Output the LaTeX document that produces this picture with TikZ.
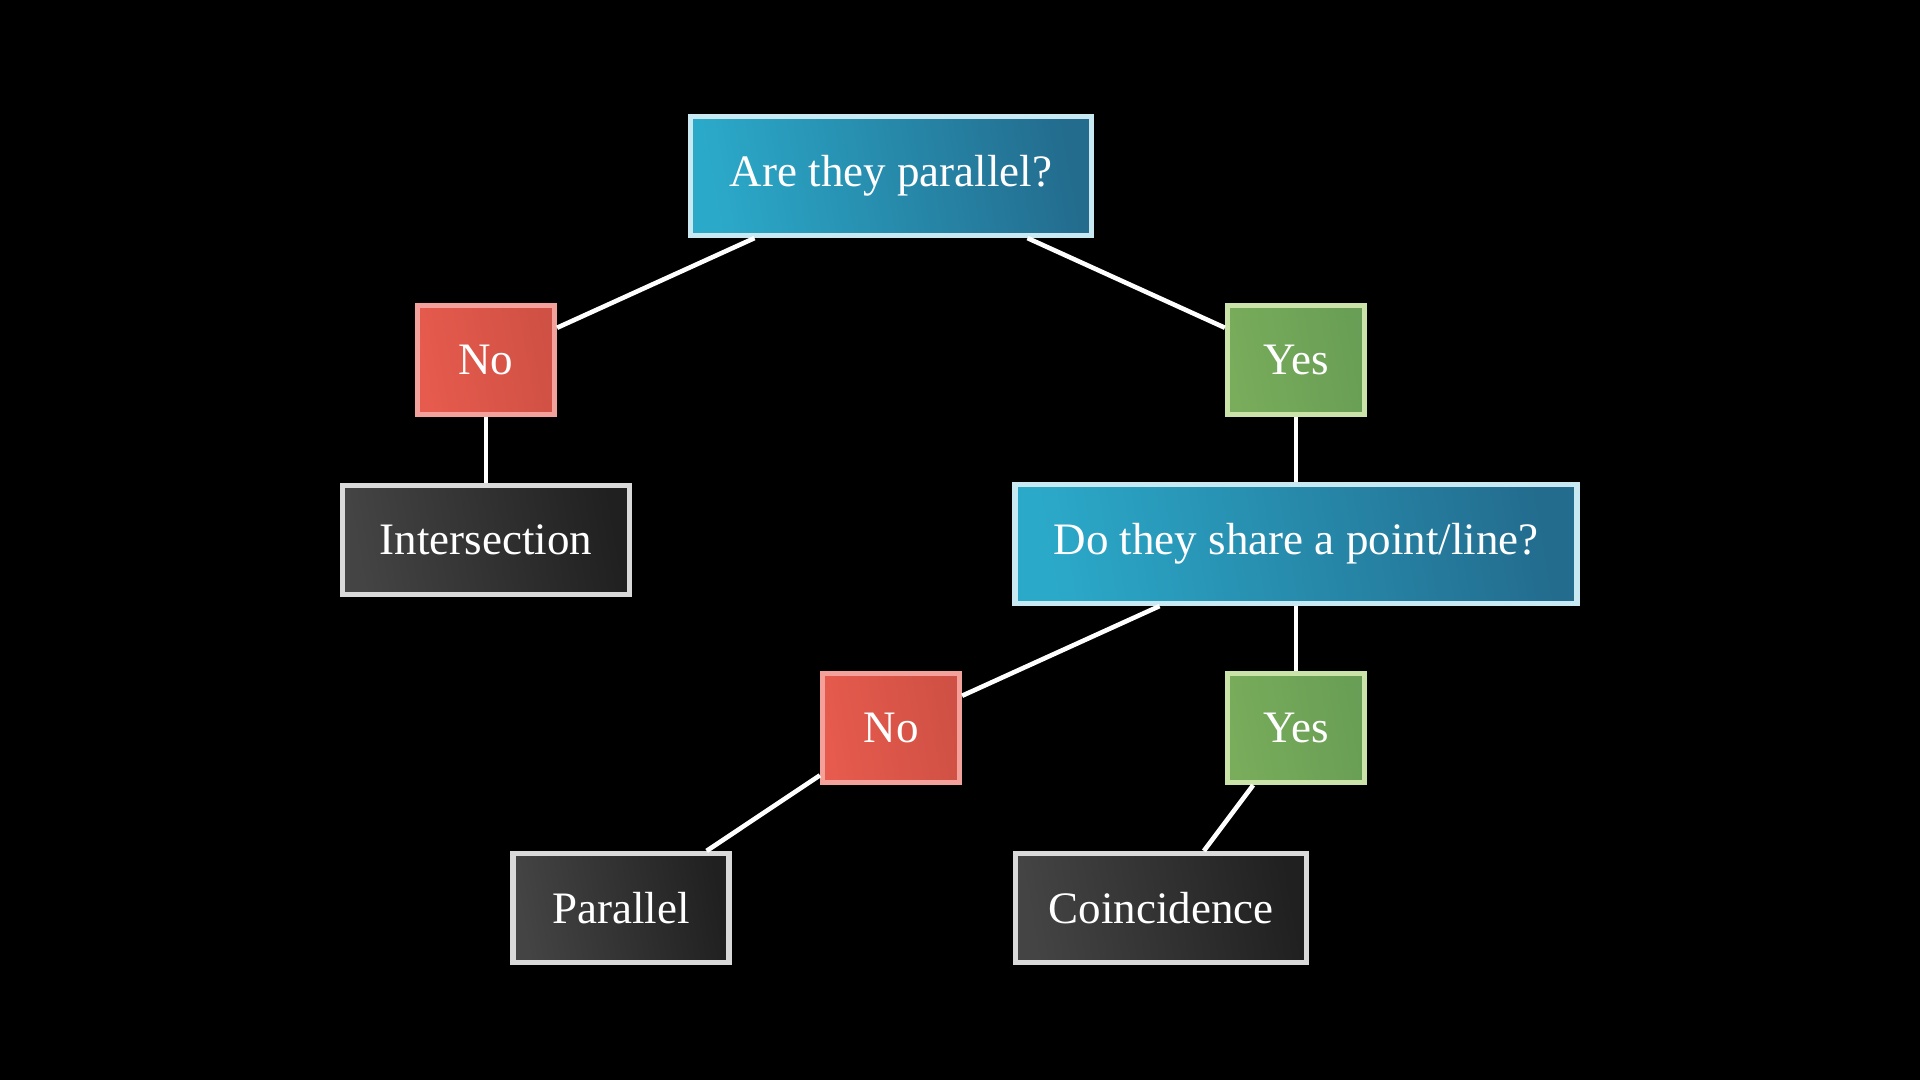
\documentclass[tikz,border=0pt]{standalone}
\usepackage{fontspec}
\setmainfont{Liberation Serif}
\definecolor{qA}{HTML}{2BA9C9}
\definecolor{qB}{HTML}{236C8E}
\definecolor{qBorder}{HTML}{C8E9F1}
\definecolor{nA}{HTML}{E65B4D}
\definecolor{nB}{HTML}{CF5044}
\definecolor{nBorder}{HTML}{F4A09B}
\definecolor{yA}{HTML}{79AC5B}
\definecolor{yB}{HTML}{689E55}
\definecolor{yBorder}{HTML}{C9E3A8}
\definecolor{lA}{HTML}{444444}
\definecolor{lB}{HTML}{202020}
\definecolor{lBorder}{HTML}{D9D9D9}
\tikzset{
  box/.style={draw, line width=2.6pt, rectangle, text=white, align=center,
    font=\fontsize{22.5}{27}\selectfont, inner sep=0pt},
  qbox/.style={box, draw=qBorder, left color=qA, right color=qB, shading angle=100, minimum height=59.5pt},
  nobox/.style={box, draw=nBorder, left color=nA, right color=nB, shading angle=100, minimum width=68.5pt, minimum height=54.5pt},
  yesbox/.style={box, draw=yBorder, left color=yA, right color=yB, shading angle=100, minimum width=68.5pt, minimum height=54.5pt},
  leafbox/.style={box, draw=lBorder, left color=lA, right color=lB, shading angle=100, minimum height=54.5pt},
  edge/.style={draw=white, line width=2.3pt}
}
\begin{document}
\begin{tikzpicture}[x=0.5pt,y=-0.5pt]
\fill[black] (0,0) rectangle (1920,1080);
\useasboundingbox (0,0) rectangle (1920,1080);
\node[qbox, minimum width=200.5pt] (root) at (891,176) {Are they parallel?};
\node[nobox] (no1) at (486,360) {No};
\node[yesbox] (yes1) at (1296,360) {Yes};
\node[leafbox, minimum width=143.5pt] (inter) at (486,540) {Intersection};
\node[qbox, minimum width=281pt] (q2) at (1296,544) {Do they share a point/line?};
\node[nobox] (no2) at (891,728) {No};
\node[yesbox] (yes2) at (1296,728) {Yes};
\node[leafbox, minimum width=108pt] (par) at (621,908) {Parallel};
\node[leafbox, minimum width=145.5pt] (coin) at (1161,908) {Coincidence};
\draw[edge] (root) -- (no1);
\draw[edge] (root) -- (yes1);
\draw[edge] (no1) -- (inter);
\draw[edge] (yes1) -- (q2);
\draw[edge] (q2) -- (no2);
\draw[edge] (q2) -- (yes2);
\draw[edge] (no2) -- (par);
\draw[edge] (yes2) -- (coin);
\end{tikzpicture}
\end{document}
